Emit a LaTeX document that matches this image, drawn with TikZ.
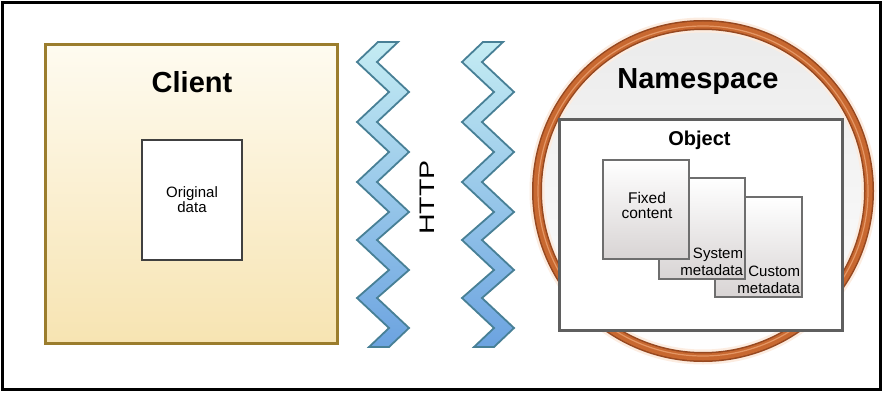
\documentclass[tikz,border=0pt]{standalone}
\usepackage{fontspec}
\setmainfont{Liberation Sans}
\definecolor{clientborder}{RGB}{155,125,45}
\definecolor{clienttop}{RGB}{254,251,240}
\definecolor{clientbot}{RGB}{247,228,178}
\definecolor{zigtop}{RGB}{196,236,243}
\definecolor{zigbot}{RGB}{108,163,224}
\definecolor{zigline}{RGB}{72,128,150}
\definecolor{ringdark}{RGB}{150,72,32}
\definecolor{ringmid}{RGB}{200,104,48}
\definecolor{ringlight}{RGB}{228,150,100}
\definecolor{ringglow}{RGB}{252,236,224}
\definecolor{boxline}{RGB}{95,95,95}
\definecolor{pageline}{RGB}{110,110,110}
\definecolor{pagebot}{RGB}{216,212,212}
\begin{document}
\begin{tikzpicture}[x=1pt,y=-1pt,
  every node/.style={inner sep=0pt, outer sep=0pt, text=black},
  frame/.style={draw=black, line width=3pt},
  clientbox/.style={draw=clientborder, line width=3pt, top color=clienttop, bottom color=clientbot, rectangle},
  databox/.style={draw=black!75, line width=2pt, fill=white, rectangle},
  zig/.style={draw=zigline, line width=1.8pt, top color=zigtop, bottom color=zigbot, line join=miter},
  nsring/.style={circle, minimum size=332pt, top color=black!8, bottom color=white},
  objbox/.style={draw=boxline, line width=3pt, fill=white, rectangle},
  pagebox/.style={draw=pageline, line width=2pt, top color=white, bottom color=pagebot, rectangle},
  bigtitle/.style={font=\fontsize{29}{31}\selectfont\bfseries},
  midtitle/.style={font=\fontsize{20}{22}\selectfont\bfseries},
  smalltext/.style={font=\fontsize{15}{13}\selectfont, align=center},
  metatext/.style={font=\fontsize{15}{17}\selectfont, align=right}
]
\useasboundingbox (0,0) rectangle (883,393);
\fill[white] (0,0) rectangle (883,393);
\draw[frame] (2.5,2.5) rectangle (880.5,389.5);

% Client
\node[clientbox, minimum width=292pt, minimum height=298pt] (client) at (191,194) {};
\node[bigtitle] (clienttitle) at (192,82) {Client};
\node[databox, minimum width=100pt, minimum height=120pt] (orig) at (192,200) {};
\node[smalltext] (origtext) at (192,200) {Original\\data};

% HTTP zigzags
\foreach \dx in {0,105} {
\begin{scope}[xshift=\dx pt]
\path[zig] (378,42) -- (357,62) -- (389,92) -- (357,122) -- (389,152) -- (357,182)
  -- (389,212) -- (357,240) -- (389,270) -- (357,298) -- (389,328) -- (369,347)
  -- (389,347) -- (409,328) -- (377,298) -- (409,270) -- (377,240) -- (409,212)
  -- (377,182) -- (409,152) -- (377,122) -- (409,92) -- (377,62) -- (398,42) -- cycle;
\end{scope}
}
\node[rotate=90, font=\fontsize{21}{23}\selectfont] (http) at (427.5,197.5) {\scalebox{1.36}[1]{HTTP}};

% Namespace
\node[nsring] (ns) at (703,191) {};
\draw[ringglow, line width=15pt] (ns.center) circle[radius=166pt];
\draw[ringdark, line width=10pt] (ns.center) circle[radius=166pt];
\draw[ringmid, line width=7pt] (ns.center) circle[radius=166pt];
\draw[ringlight, line width=1.2pt] (ns.center) circle[radius=165pt];
\node[bigtitle] (nstitle) at (698,82) {Namespace};

% Object
\node[objbox, minimum width=283pt, minimum height=210pt] (obj) at (700.5,225) {};
\node[midtitle] (objtitle) at (699.5,140) {Object};

\node[pagebox, minimum width=87pt, minimum height=100pt] (custom) at (758.5,247) {};
\node[pagebox, minimum width=86pt, minimum height=101pt] (system) at (702,228.5) {};
\node[pagebox, minimum width=86pt, minimum height=99pt] (fixed) at (646,209.5) {};

\node[smalltext, font=\fontsize{15.5}{15}\selectfont] (fixedtext) at (647,205) {Fixed\\content};
\node[metatext, anchor=south east] (systext) at (743,276) {System\\metadata};
\node[metatext, anchor=south east] (custext) at (800,294) {Custom\\metadata};
\end{tikzpicture}
\end{document}
